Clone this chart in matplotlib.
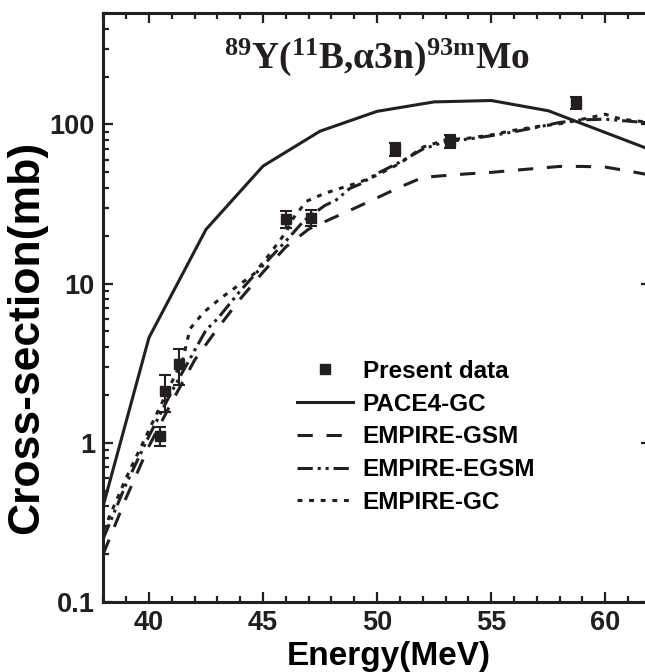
import matplotlib
matplotlib.use('Agg')
import matplotlib.pyplot as plt
from matplotlib.lines import Line2D
from matplotlib.ticker import FixedLocator, MultipleLocator, NullFormatter

plt.rcParams['font.family'] = ['Liberation Sans', 'DejaVu Sans']
plt.rcParams['font.weight'] = 'bold'
plt.rcParams['mathtext.fontset'] = 'custom'
plt.rcParams['mathtext.rm'] = 'Liberation Serif:bold'
plt.rcParams['mathtext.it'] = 'Liberation Serif:bold:italic'
plt.rcParams['mathtext.bf'] = 'Liberation Serif:bold'

# measured cross sections
energy_exp = [40.5, 40.7, 41.3, 46.0, 47.1, 50.8, 53.2, 58.7]
sigma_exp = [1.1, 2.1, 3.1, 25.5, 26.0, 70.0, 79.0, 137.0]
sigma_err = [0.15, 0.55, 0.8, 3.0, 3.0, 6.5, 7.5, 12.0]

# PACE4 with Gilbert-Cameron level density
energy_pace = [37.5, 40, 42.5, 45, 47.5, 50, 52.5, 55, 57.5, 60, 62.5]
sigma_pace = [0.22, 4.57, 21.9, 54.8, 90.8, 121, 138.7, 141.5, 122, 89, 65]

# EMPIRE, three level density options
energy_gsm = [38, 39, 40, 41, 42, 43, 44, 45, 46, 47, 48, 49, 50, 51, 52,
              53, 54, 55, 56, 57, 58, 59, 60, 61, 62]
sigma_gsm = [0.2, 0.45, 0.95, 1.8, 3.3, 5.2, 8.0, 11.8, 17.0, 22.0, 25.6,
             29.7, 34.6, 40.4, 46.5, 47.8, 49.0, 50.0, 51.5, 53.0, 54.5,
             54.5, 54.0, 51.0, 48.0]

energy_egsm = [38, 39, 40, 41, 42, 42.5, 43, 44, 45, 46, 46.8, 47.7, 48.2,
               48.8, 49.3, 49.7, 50.1, 51, 52, 53, 54, 55, 56, 57, 58, 59,
               60, 61, 62]
sigma_egsm = [0.25, 0.55, 1.1, 2.1, 3.8, 5.1, 6.0, 9.0, 13.0, 18.5, 24.9,
              30.9, 33.5, 39.6, 42.5, 46.3, 50.0, 58.0, 70.0, 78.0, 81.0,
              85.0, 90.0, 96.0, 103.0, 107.0, 108.0, 105.0, 102.0]

energy_gc = [38, 39, 40, 41, 41.5, 41.8, 42.4, 43.1, 43.9, 44.6, 45.3, 46,
             46.3, 46.9, 47.7, 48.5, 49.2, 50, 51, 52, 53, 54, 55, 56, 57,
             58, 59, 60, 60.7, 61.7, 62]
sigma_gc = [0.28, 0.6, 1.2, 2.4, 3.4, 5.2, 6.6, 8.0, 9.7, 11.5, 15.4, 21.0,
            25.5, 32.9, 36.9, 40.2, 43.2, 48.0, 57.0, 72.0, 80.0, 82.0, 86.0,
            92.0, 97.0, 101.0, 108.0, 116.0, 108.0, 104.0, 103.0]

ink = '#231f20'
lw = 2.2
ls_gsm = (0, (5, 4.5))
ls_egsm = (0, (5, 1.6, 1, 1.6, 1, 1.6))
ls_gc = (0, (1.6, 2.2))

fig = plt.figure(figsize=(6.45, 6.72), dpi=100)
ax = fig.add_axes([0.1602, 0.1046, 0.849, 0.8756])

ax.errorbar(energy_exp, sigma_exp, yerr=sigma_err, fmt='s', color=ink,
            markersize=6.5, capsize=4.5, elinewidth=1.5, capthick=1.5,
            zorder=5)
ax.plot(energy_pace, sigma_pace, '-', color=ink, lw=lw)
ax.plot(energy_gsm, sigma_gsm, color=ink, lw=lw, linestyle=ls_gsm)
ax.plot(energy_egsm, sigma_egsm, color=ink, lw=lw, linestyle=ls_egsm)
ax.plot(energy_gc, sigma_gc, color=ink, lw=lw, linestyle=ls_gc)

ax.set_yscale('log')
ax.set_xlim(38, 62)
ax.set_ylim(0.1, 500)

ax.xaxis.set_major_locator(MultipleLocator(5))
ax.xaxis.set_minor_locator(MultipleLocator(1))
ax.yaxis.set_major_locator(FixedLocator([0.1, 1, 10, 100]))
ax.set_yticklabels(['0.1', '1', '10', '100'])
ax.yaxis.set_minor_formatter(NullFormatter())

ax.tick_params(which='both', direction='in', top=True, right=True,
               width=1.6, colors=ink, labelsize=19.5)
ax.tick_params(which='major', length=7, pad=6)
ax.tick_params(which='minor', length=4)
for s in ax.spines.values():
    s.set_linewidth(2.2)
    s.set_color(ink)

ax.set_xlabel('Energy(MeV)', fontsize=24, fontweight='bold')
ax.xaxis.set_label_coords(0.522, -0.066, transform=ax.transAxes)
ax.xaxis.label.set_va('top')
ax.set_ylabel('Cross-section(mb)', fontsize=32, fontweight='bold')
ax.yaxis.set_label_coords(-0.102, 0.45, transform=ax.transAxes)

ax.text(0.5, 0.926, r'$^{\mathrm{89}}$Y($^{\mathrm{11}}$B,α3n)$^{\mathrm{93m}}$Mo',
        transform=ax.transAxes, ha='center', va='center', fontsize=27,
        fontfamily='Liberation Serif', fontweight='bold', color=ink)

handles = [
    Line2D([], [], ls='none', marker='s', color=ink, markersize=6.5),
    Line2D([], [], color=ink, lw=lw),
    Line2D([], [], color=ink, lw=lw, linestyle=ls_gsm),
    Line2D([], [], color=ink, lw=lw, linestyle=ls_egsm),
    Line2D([], [], color=ink, lw=lw, linestyle=ls_gc),
]
labels = ['Present data', 'PACE4-GC', 'EMPIRE-GSM', 'EMPIRE-EGSM', 'EMPIRE-GC']
ax.legend(handles, labels, loc='upper left', bbox_to_anchor=(0.354, 0.411),
          frameon=False, fontsize=17.5, handlelength=2.3, handletextpad=0.4,
          labelspacing=0.4, borderaxespad=0, borderpad=0)

fig.savefig('out.png', dpi=100)
